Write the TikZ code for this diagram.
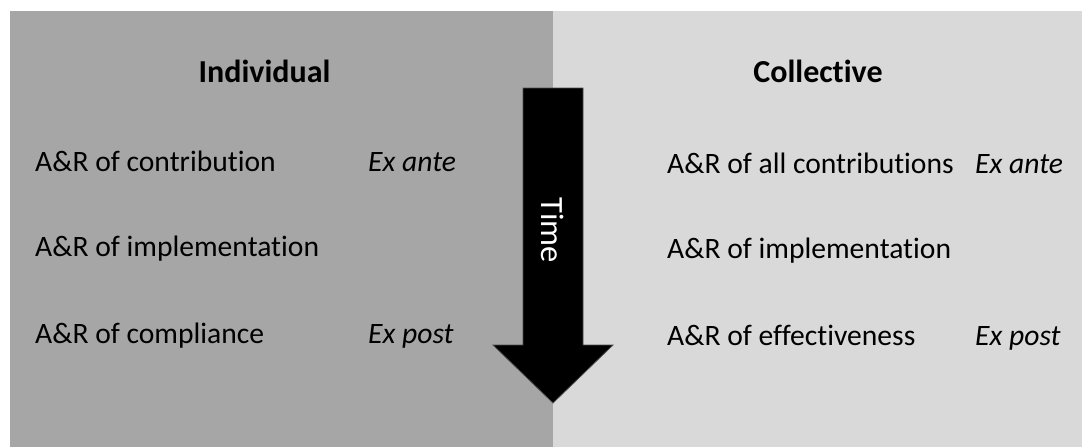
\documentclass[tikz,border=0pt]{standalone}
\usepackage{fontspec}
\setmainfont{Carlito}[RawFeature={-liga;-clig;-dlig}]
\usepackage{tikz}
\definecolor{darkpanel}{HTML}{A6A6A6}
\definecolor{lightpanel}{HTML}{D9D9D9}
\tikzstyle{heading} = [anchor=base, inner sep=0pt, font=\fontsize{32}{38}\selectfont\bfseries]
\tikzstyle{item} = [anchor=base west, inner sep=0pt, font=\fontsize{29.6}{35}\selectfont]
\tikzstyle{phase} = [item, font=\fontsize{29.6}{35}\selectfont\itshape]
\tikzstyle{timearrow} = [fill=black, draw=black!70, line width=0.8pt, line join=miter]

\begin{document}
\begin{tikzpicture}[x=1pt, y=-1pt]
            \useasboundingbox (0,0) rectangle (1082,447);
            \fill [darkpanel] (10,11) rectangle (553,447);
            \fill [lightpanel] (553,11) rectangle (1082,447);
            \draw [timearrow] (523,88) -- (583,88) -- (583,345) -- (613,345) -- (553,403) -- (493,345) -- (523,345) -- cycle;
            \node (time) [rotate=-90, text=white, inner sep=0pt, font=\fontsize{32.5}{38}\selectfont] at (553,230) {Time};
            \node (indiv) [heading] at (264.5,82) {Individual};
            \node (coll) [heading] at (818,82) {Collective};
            \node (contrib) [item] at (35,171.7) {A\&R of contribution};
            \node (implleft) [item] at (35,256.7) {A\&R of implementation};
            \node (compl) [item] at (35,343) {A\&R of compliance};
            \node (anteleft) [phase] at (368,171.7) {Ex ante};
            \node (postleft) [phase] at (368,343) {Ex post};
            \node (allcontrib) [item] at (667,173) {A\&R of all contributions};
            \node (implright) [item] at (667,258) {A\&R of implementation};
            \node (effect) [item] at (667,345) {A\&R of effectiveness};
            \node (anteright) [phase] at (975,173) {Ex ante};
            \node (postright) [phase] at (975,345) {Ex post};
        \end{tikzpicture}
\end{document}
